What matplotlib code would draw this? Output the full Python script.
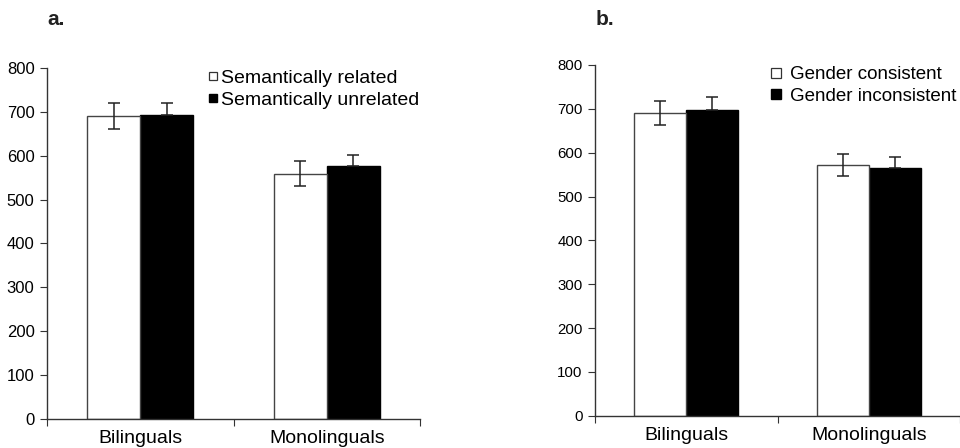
import matplotlib
matplotlib.use("Agg")
import matplotlib.pyplot as plt
from matplotlib.lines import Line2D

plt.rcParams['font.family'] = ['Liberation Sans', 'DejaVu Sans']

groups = ["Bilinguals", "Monolinguals"]

# panel a: semantic relatedness
sem_related = [690, 559]
sem_related_err = [30, 28]
sem_unrelated = [693, 576]
sem_unrelated_err = [28, 25]

# panel b: gender consistency
gen_consistent = [690, 571]
gen_consistent_err = [27, 25]
gen_inconsistent = [698, 565]
gen_inconsistent_err = [28, 25]

W, H = 960, 448
fig = plt.figure(figsize=(9.6, 4.48), dpi=100)


def panel(rect, white, white_err, black, black_err, labels, tick_fs, leg_pos, leg_fs, msize, tpad, letter, letter_x):
    l, r, t, b = rect
    ax = fig.add_axes([l / W, 1 - b / H, (r - l) / W, (b - t) / H])
    x = [0, 1]
    bw = 0.284
    ekw = dict(ecolor='#222222', elinewidth=1.1, capsize=4, capthick=1.1)
    ax.bar([i - bw / 2 for i in x], white, bw, yerr=white_err, color='white',
           edgecolor='#444444', linewidth=1.0, error_kw=ekw, zorder=2)
    # lower half of the black bars' error bars is hidden by the bar itself
    ax.bar([i + bw / 2 for i in x], black, bw, yerr=[[0, 0], black_err], color='black',
           edgecolor='black', linewidth=1.0, error_kw=ekw, zorder=1)
    ax.set_xlim(-0.5, 1.5)
    ax.set_ylim(0, 800)
    ax.set_yticks(range(0, 801, 100))
    ax.set_xticks([-0.5, 0.5, 1.5])
    ax.set_xticklabels([])
    ax.set_xticks(x, minor=True)
    ax.set_xticklabels(groups, minor=True, fontsize=14)
    ax.tick_params(axis='x', which='minor', length=0, pad=8)
    ax.tick_params(axis='x', which='major', length=5, color='#333333')
    ax.tick_params(axis='y', length=5, labelsize=tick_fs, color='#333333', pad=4)
    for s in ['top', 'right']:
        ax.spines[s].set_visible(False)
    for s in ['left', 'bottom']:
        ax.spines[s].set_color('#333333')
        ax.spines[s].set_linewidth(1.0)
    handles = [
        Line2D([], [], marker='s', linestyle='none', markersize=msize,
               markerfacecolor='white', markeredgecolor='#333333', markeredgewidth=0.9),
        Line2D([], [], marker='s', linestyle='none', markersize=msize,
               markerfacecolor='black', markeredgecolor='black'),
    ]
    fig.legend(handles, labels, loc='upper left',
               bbox_to_anchor=(leg_pos[0] / W, 1 - leg_pos[1] / H),
               frameon=False, fontsize=leg_fs, handlelength=0.5,
               handletextpad=tpad, labelspacing=0.25, borderpad=0, borderaxespad=0)
    fig.text(letter_x / W, 1 - 10 / H, letter, fontsize=15, fontweight='bold',
             va='top', ha='left', color='#222222')
    return ax


panel((47, 420, 68, 419), sem_related, sem_related_err, sem_unrelated, sem_unrelated_err,
      ["Semantically related", "Semantically unrelated"], 12, (208, 69), 14, 6, 0.15, "a.", 47)
panel((595, 960, 65, 415.7), gen_consistent, gen_consistent_err, gen_inconsistent, gen_inconsistent_err,
      ["Gender consistent", "Gender inconsistent"], 10.8, (771, 66), 13.5, 7, 0.5, "b.", 596)

fig.savefig("out.png", dpi=100)
